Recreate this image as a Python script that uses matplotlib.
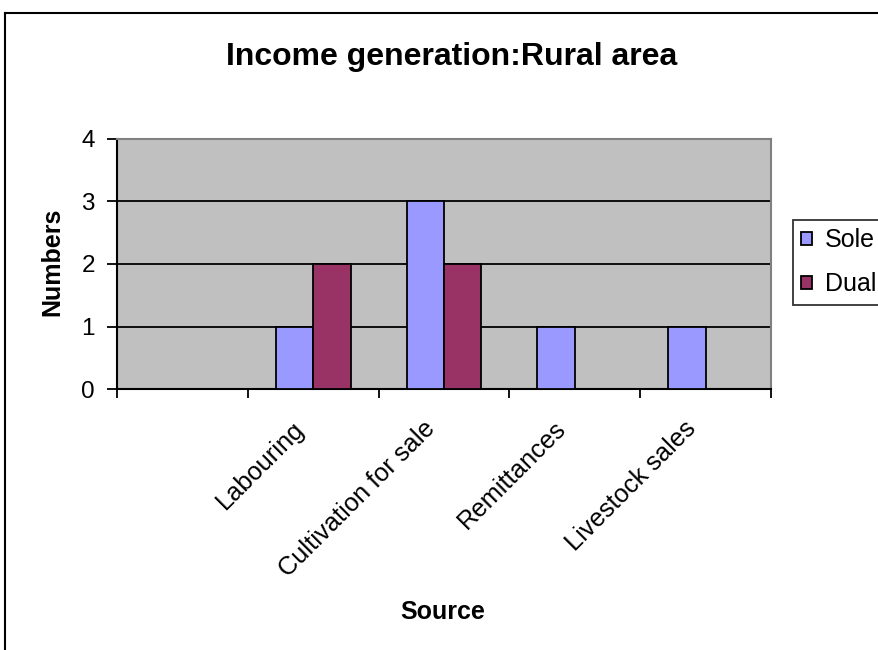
import numpy as np
import matplotlib.pyplot as plt
from matplotlib.lines import Line2D

# income sources in the rural sample (first slot is left blank on the axis)
sources = ["", "Labouring", "Cultivation for sale", "Remittances", "Livestock sales"]
sole = [0, 1, 3, 1, 1]
dual = [0, 2, 2, 0, 0]

plt.rcParams['font.family'] = ['Liberation Sans', 'DejaVu Sans']

fig = plt.figure(figsize=(8.79, 6.5), dpi=100)
ax = fig.add_axes([117 / 879, 1 - 389 / 650, 654 / 879, 250 / 650])

x = np.arange(len(sources))
w = 1 / 3.5  # excel-style gap width of 150%
ax.bar(x - w / 2, sole, w, color='#9999FF', edgecolor='black', linewidth=1.3, label='Sole', zorder=3)
ax.bar(x + w / 2, dual, w, color='#993366', edgecolor='black', linewidth=1.3, label='Dual', zorder=3)

ax.set_facecolor('#C0C0C0')
ax.set_xlim(-0.5, len(sources) - 0.5)
ax.set_ylim(0, 4)
ax.set_yticks([0, 1, 2, 3, 4])
ax.yaxis.grid(True, color='black', linewidth=1.3)
ax.set_axisbelow(True)

# tick marks between categories, labels at category centres
ax.set_xticks(np.arange(-0.5, len(sources)))
ax.set_xticklabels([])
ax.set_xticks(x - 0.1, minor=True)
ax.set_xticklabels(sources, minor=True, rotation=45, ha='right', va='center',
                   rotation_mode='anchor', fontsize=18.3)
ax.tick_params(axis='x', which='minor', length=0, pad=26)
ax.tick_params(axis='x', which='major', length=6.5, width=1.3, direction='out')
ax.tick_params(axis='y', length=7, width=1.3, direction='out', labelsize=17.5, pad=9)

for side in ['left', 'bottom']:
    ax.spines[side].set_color('black')
    ax.spines[side].set_linewidth(1.5)
for side in ['top', 'right']:
    ax.spines[side].set_color('#808080')
    ax.spines[side].set_linewidth(1.5)

ax.set_ylabel('Numbers', fontsize=18, fontweight='bold', va='center')
ax.yaxis.set_label_coords(-0.0994, 0.508)
ax.set_xlabel('Source', fontsize=18, fontweight='bold', va='center')
ax.xaxis.set_label_coords(0.4985, -0.892)

fig.text(452 / 879, 1 - 57 / 650, 'Income generation:Rural area', ha='center', va='center',
         fontsize=23, fontweight='bold')

leg = ax.legend(loc='upper left', bbox_to_anchor=(793 / 879, 1 - 220 / 650),
                bbox_transform=fig.transFigure, fontsize=18, frameon=True, fancybox=False,
                edgecolor='black', borderpad=0.33, handlelength=0.45, handleheight=0.45,
                handletextpad=0.5, labelspacing=0.8, borderaxespad=0)
leg.get_frame().set_linewidth(1.3)

# outer chart border
fig.add_artist(Line2D([5 / 879, 5 / 879], [0, 1 - 13 / 650], color='black', linewidth=1.5,
                      transform=fig.transFigure))
fig.add_artist(Line2D([5 / 879, 1], [1 - 13 / 650, 1 - 13 / 650], color='black', linewidth=1.5,
                      transform=fig.transFigure))

fig.savefig('out.png', dpi=100)
